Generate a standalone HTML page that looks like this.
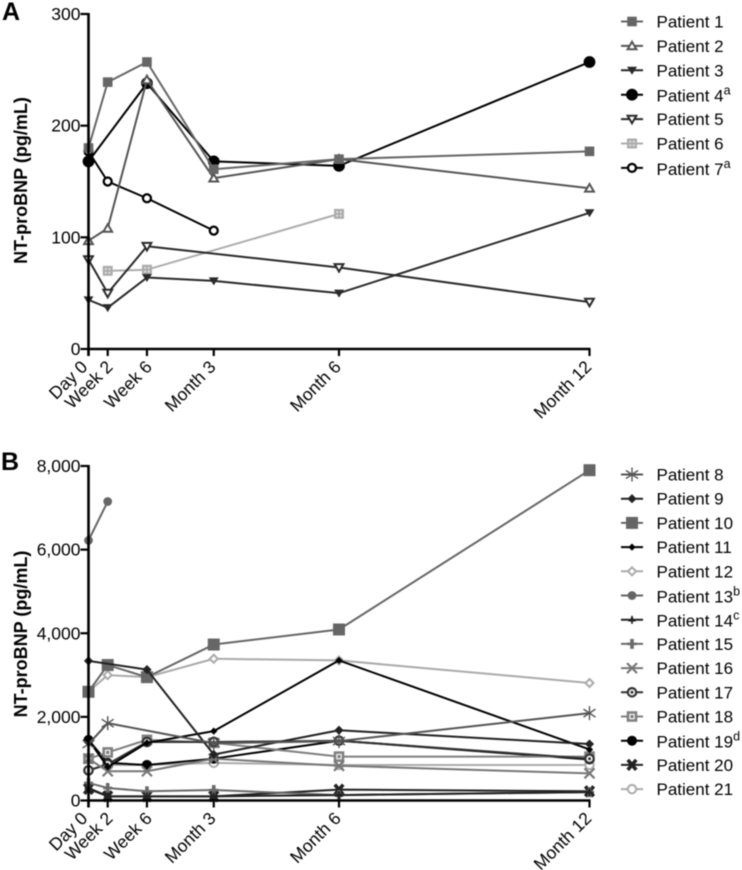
<!DOCTYPE html>
<html lang="en">
<head>
<meta charset="utf-8">
<title>NT-proBNP by patient</title>
<style>
html,body{margin:0;padding:0;background:#fff;}
svg{display:block;filter:blur(0.4px);}
text{font-family:"Liberation Sans",Arial,sans-serif;fill:#000;}
</style>
</head>
<body>
<svg id="chart" width="742" height="870" viewBox="0 0 742 870" xmlns="http://www.w3.org/2000/svg">
<text x="2" y="20" font-size="25" font-weight="700">A</text>
<text x="1" y="470" font-size="25" font-weight="700">B</text>
<text transform="translate(27,180.5) rotate(-90)" text-anchor="middle" font-size="18" font-weight="700">NT-proBNP (pg/mL)</text>
<text transform="translate(27,634) rotate(-90)" text-anchor="middle" font-size="18" font-weight="700">NT-proBNP (pg/mL)</text>
</svg>
<script>
// ---- shared x axis data (months since baseline)
const timeLabels = ['Day 0', 'Week 2', 'Week 6', 'Month 3', 'Month 6', 'Month 12'];
const timeMonths = [0, 0.46, 1.4, 3, 6, 12];

// ---- Panel A data (pg/mL)
const ticksA = [0, 100, 200, 300];
const patient1 = [180, 239, 257, 161, 170, 177];
const patient2 = [97, 108, 241, 153, 170, 144];
const patient3 = [44, 37, 64, 61, 50, 122];
const patient4 = [168, null, 238, 168, 164, 257];
const patient5 = [80, 50, 92, null, 73, 42];
const patient6 = [null, 70, 71, null, 121, null];
const patient7 = [177, 150, 135, 106, null, null];

// ---- Panel B data (pg/mL)
const ticksB = [0, 2000, 4000, 6000, 8000];
const patient8 = [1350, 1850, null, 1370, 1420, 2090];
const patient9 = [3340, null, 3130, 1100, 1680, 1350];
const patient10 = [2600, 3240, 2950, 3730, 4090, 7900];
const patient11 = [1450, 800, 1380, 1660, 3350, 1220];
const patient12 = [2600, 3000, 2950, 3390, 3350, 2810];
const patient13 = [6220, 7150, null, null, null, null];
const patient14 = [300, 100, 100, 100, 130, 200];
const patient15 = [420, 300, 220, 250, 130, 200];
const patient16 = [1000, 700, 700, 1000, 830, 650];
const patient17 = [720, 870, 1400, 1400, 1430, 1000];
const patient18 = [1000, 1150, 1450, 1380, 1050, 1050];
const patient19 = [1450, 900, 850, 1000, 1430, 980];
const patient20 = [280, 100, 100, 100, 260, 220];
const patient21 = [720, 850, 850, 900, 850, 850];

// ---- axis functions
const svg = document.getElementById('chart');
const NS = 'http://www.w3.org/2000/svg';
const xScale = m => 88.5 + m * (589.5 - 88.5) / 12;
const yScaleA = v => 349 - v * (349 - 14) / 300;
const yScaleB = v => 800.5 - v * (800.5 - 466) / 8000;

function make(tag, attrs, parent) {
  const el = document.createElementNS(NS, tag);
  for (const k in attrs) el.setAttribute(k, attrs[k]);
  (parent || svg).appendChild(el);
  return el;
}

function drawMarker(g, kind, x, y, c) {
  const sq = (r, f, sw) => make('rect', {x: x - r, y: y - r, width: 2 * r, height: 2 * r, fill: f, stroke: c, 'stroke-width': sw || 0}, g);
  const ci = (r, f, sw) => make('circle', {cx: x, cy: y, r: r, fill: f, stroke: c, 'stroke-width': sw || 0}, g);
  const poly = (pts, f, sw) => make('polygon', {points: pts.map(p => (x + p[0]) + ',' + (y + p[1])).join(' '), fill: f, stroke: c, 'stroke-width': sw || 0}, g);
  const seg = (a, b, d, e, sw) => make('line', {x1: x + a, y1: y + b, x2: x + d, y2: y + e, stroke: c, 'stroke-width': sw}, g);
  if (kind === 'square') sq(4.8, c);
  else if (kind === 'bigSquare') sq(6, c);
  else if (kind === 'triUpOpen') poly([[0, -4.2], [4.4, 3.4], [-4.4, 3.4]], '#fff', 2);
  else if (kind === 'triDown') poly([[-5, -3.5], [5, -3.5], [0, 4.5]], c);
  else if (kind === 'triDownOpen') poly([[-4.4, -3.4], [4.4, -3.4], [0, 4.2]], '#fff', 2);
  else if (kind === 'circle') ci(5.9, c);
  else if (kind === 'midCircle') ci(5, c);
  else if (kind === 'smallCircle') ci(4.4, c);
  else if (kind === 'circleOpen') ci(4, '#fff', 2.3);
  else if (kind === 'circleLight') ci(4.2, '#fff', 2);
  else if (kind === 'circleDot') { ci(4.2, '#fff', 2.2); ci(1.5, c); }
  else if (kind === 'squareDot') { sq(4, '#fff', 2.6); sq(1.6, c); }
  else if (kind === 'squareCross') { sq(5, c); make('circle', {cx: x - 1.8, cy: y - 1.8, r: 0.8, fill: '#fff'}, g); make('circle', {cx: x + 1.8, cy: y + 1.8, r: 0.8, fill: '#fff'}, g); make('circle', {cx: x + 1.8, cy: y - 1.8, r: 0.8, fill: '#fff'}, g); make('circle', {cx: x - 1.8, cy: y + 1.8, r: 0.8, fill: '#fff'}, g); }
  else if (kind === 'diamond') poly([[0, -4.6], [4.6, 0], [0, 4.6], [-4.6, 0]], c);
  else if (kind === 'smallDiamond') poly([[0, -3.6], [3.6, 0], [0, 3.6], [-3.6, 0]], c);
  else if (kind === 'diamondOpen') poly([[0, -4], [4, 0], [0, 4], [-4, 0]], '#fff', 2);
  else if (kind === 'asterisk') { seg(0, -7, 0, 7, 1.4); seg(-6, -4, 6, 4, 1.4); seg(-6, 4, 6, -4, 1.4); }
  else if (kind === 'star') { seg(0, -3.5, 0, 4, 1.8); seg(-3.8, 0.8, 3.8, 0.8, 2); poly([[0, -4.5], [1.8, 0], [-1.8, 0]], c); }
  else if (kind === 'plus') { seg(0, -5, 0, 5, 3.6); seg(-4.5, 0, 4.5, 0, 2.6); }
  else if (kind === 'cross') { seg(-5, -5, 5, 5, 2.2); seg(-5, 5, 5, -5, 2.2); }
  else if (kind === 'boldCross') { seg(-4.2, -5, 4.2, 5, 3.6); seg(-4.2, 5, 4.2, -5, 3.6); }
}

function drawSeries(item, yScale) {
  const g = make('g', {});
  
  
  const pts = [];
  item.values.forEach((v, i) => { if (v !== null) pts.push([xScale(timeMonths[i]), yScale(v)]); });
  make('polyline', {points: pts.map(p => p.join(',')).join(' '), fill: 'none', stroke: item.color, 'stroke-width': 2, 'stroke-linejoin': 'round'}, g);
  pts.forEach(p => drawMarker(g, item.marker, p[0], p[1], item.color));
}

// small layout rule: the plotting package slides crowded labels apart
function labelNudge(label) {
  if (label.startsWith('Day')) return -3;
  if (label.startsWith('Week')) return 3;
  return 0;
}

function drawAxes(ticks, yScale, bottom, panel) {
  const g = make('g', {});
  
  
  const top = yScale(ticks[ticks.length - 1]);
  make('line', {x1: xScale(0), y1: top - 1, x2: xScale(0), y2: bottom + 7, stroke: '#000', 'stroke-width': 2.6}, g);
  make('line', {x1: xScale(0) - 1, y1: bottom, x2: xScale(12) + 1, y2: bottom, stroke: '#000', 'stroke-width': 2.6}, g);
  ticks.forEach(t => {
    make('line', {x1: xScale(0) - 8, y1: yScale(t), x2: xScale(0), y2: yScale(t), stroke: '#000', 'stroke-width': 2.2}, g);
    const lab = make('text', {x: xScale(0) - 8, y: yScale(t) + 6, 'text-anchor': 'end', 'font-size': 17.5}, g);
    lab.textContent = t >= 1000 ? t.toLocaleString('en-US') : String(t);
  });
  timeMonths.forEach((m, i) => {
    make('line', {x1: xScale(m), y1: bottom, x2: xScale(m), y2: bottom + 7, stroke: '#000', 'stroke-width': 2.2}, g);
    const lab = make('text', {transform: 'translate(' + (xScale(m) + 3 + labelNudge(timeLabels[i])) + ',' + (bottom + 19) + ') rotate(-45)', 'text-anchor': 'end', 'font-size': 17.5}, g);
    lab.textContent = timeLabels[i];
  });
}

function drawLegendRow(item, y) {
  const g = make('g', {});
  
  
  make('line', {x1: 621, y1: y, x2: 643, y2: y, stroke: item.color, 'stroke-width': 2}, g);
  drawMarker(g, item.marker, 632, y, item.color);
  const t = make('text', {x: 656.5, y: y + (item.sup ? 7 : 6), 'font-size': 17}, g);
  t.textContent = item.name;
  if (item.sup) {
    const s = make('tspan', {dy: -7, 'font-size': 12.5}, t);
    s.textContent = item.sup;
  }
}

const seriesA = [
  {name: 'Patient 1', values: patient1, marker: 'square', color: '#666666'},
  {name: 'Patient 2', values: patient2, marker: 'triUpOpen', color: '#555555'},
  {name: 'Patient 3', values: patient3, marker: 'triDown', color: '#2a2a2a'},
  {name: 'Patient 4', sup: 'a', values: patient4, marker: 'circle', color: '#000000'},
  {name: 'Patient 5', values: patient5, marker: 'triDownOpen', color: '#2a2a2a'},
  {name: 'Patient 6', values: patient6, marker: 'squareCross', color: '#adadad'},
  {name: 'Patient 7', sup: 'a', values: patient7, marker: 'circleOpen', color: '#000000'}
];
const seriesB = [
  {name: 'Patient 8', values: patient8, marker: 'asterisk', color: '#555555'},
  {name: 'Patient 9', values: patient9, marker: 'diamond', color: '#222222'},
  {name: 'Patient 10', values: patient10, marker: 'bigSquare', color: '#666666'},
  {name: 'Patient 11', values: patient11, marker: 'smallDiamond', color: '#000000'},
  {name: 'Patient 12', values: patient12, marker: 'diamondOpen', color: '#aaaaaa'},
  {name: 'Patient 13', sup: 'b', values: patient13, marker: 'smallCircle', color: '#666666'},
  {name: 'Patient 14', sup: 'c', values: patient14, marker: 'star', color: '#222222'},
  {name: 'Patient 15', values: patient15, marker: 'plus', color: '#6a6a6a'},
  {name: 'Patient 16', values: patient16, marker: 'cross', color: '#777777'},
  {name: 'Patient 17', values: patient17, marker: 'circleDot', color: '#333333'},
  {name: 'Patient 18', values: patient18, marker: 'squareDot', color: '#808080'},
  {name: 'Patient 19', sup: 'd', values: patient19, marker: 'midCircle', color: '#000000'},
  {name: 'Patient 20', values: patient20, marker: 'boldCross', color: '#222222'},
  {name: 'Patient 21', values: patient21, marker: 'circleLight', color: '#aaaaaa'}
];

// legend row spacing is a layout rule, not data
const legendRow = (start, step, i) => start + step * i;

// first-listed patient sits on top, as in the source figure
[...seriesA].reverse().forEach(s => drawSeries(s, yScaleA));
[...seriesB].reverse().forEach(s => drawSeries(s, yScaleB));
drawAxes(ticksA, yScaleA, yScaleA(0), 'panel-a');
drawAxes(ticksB, yScaleB, yScaleB(0), 'panel-b');
seriesA.forEach((s, i) => drawLegendRow(s, legendRow(21.5, 24.4, i)));
seriesB.forEach((s, i) => drawLegendRow(s, legendRow(474.5, 24.2, i)));
</script>
</body>
</html>
